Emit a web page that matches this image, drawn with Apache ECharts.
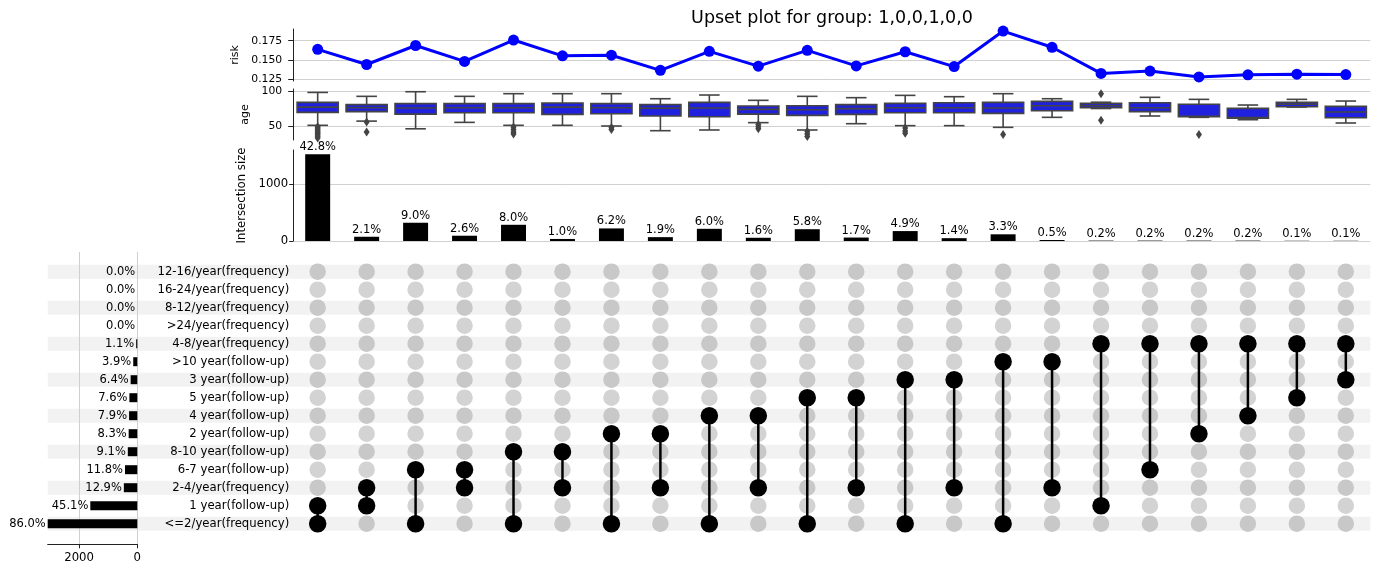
<!DOCTYPE html>
<html>
<head>
<meta charset="utf-8">
<title>Upset plot for group: 1,0,0,1,0,0</title>
<script src="https://cdn.jsdelivr.net/npm/echarts@6.0.0/dist/echarts.min.js"></script>
<style>
html, body { margin: 0; padding: 0; background: #fff; }
#chart { width: 1384px; height: 577px; }
</style>
</head>
<body>
<div id="chart"></div>
<script>
// sets, top to bottom in the matrix
const setNames = ['12-16/year(frequency)', '16-24/year(frequency)', '8-12/year(frequency)', '>24/year(frequency)',
  '4-8/year(frequency)', '>10 year(follow-up)', '3 year(follow-up)', '5 year(follow-up)', '4 year(follow-up)',
  '2 year(follow-up)', '8-10 year(follow-up)', '6-7 year(follow-up)', '2-4/year(frequency)', '1 year(follow-up)',
  '<=2/year(frequency)'];
const setSizes = [0, 0, 0, 0, 39, 140, 229, 272, 283, 297, 326, 422, 462, 1615, 3079];
const setPct = ['0.0%', '0.0%', '0.0%', '0.0%', '1.1%', '3.9%', '6.4%', '7.6%', '7.9%', '8.3%', '9.1%', '11.8%', '12.9%', '45.1%', '86.0%'];

// intersections, left to right (indices into setNames)
const members = [[13, 14], [12, 13], [11, 14], [11, 12], [10, 14], [10, 12], [9, 14], [9, 12], [8, 14], [8, 12],
  [7, 14], [7, 12], [6, 14], [6, 12], [5, 14], [5, 12], [4, 13], [4, 11], [4, 9], [4, 8], [4, 7], [4, 6]];
const interSizes = [1532, 75, 322, 93, 286, 36, 222, 68, 215, 57, 208, 61, 175, 50, 118, 18, 7, 7, 7, 7, 4, 4];
const interPct = ['42.8%', '2.1%', '9.0%', '2.6%', '8.0%', '1.0%', '6.2%', '1.9%', '6.0%', '1.6%', '5.8%', '1.7%',
  '4.9%', '1.4%', '3.3%', '0.5%', '0.2%', '0.2%', '0.2%', '0.2%', '0.1%', '0.1%'];

const risk = [0.1638, 0.1442, 0.1688, 0.1482, 0.1759, 0.1554, 0.1562, 0.1366, 0.1612, 0.1420, 0.1625,
  0.1424, 0.1607, 0.1415, 0.1875, 0.1665, 0.1326, 0.1357, 0.1281, 0.1308, 0.1317, 0.1312];

// age box stats: [low whisker, q1, median, q3, high whisker]
const ageBoxes = [
  [51, 69.5, 77, 83.8, 98], [57, 70.5, 76, 80.5, 92.4], [46, 67, 75.7, 82, 99], [55.2, 69, 76.2, 82, 92.4],
  [51, 69, 76.2, 82, 96.2], [51, 66.7, 77, 82.9, 96.2], [50, 67.6, 76.2, 82, 96.2], [43.3, 64.3, 75.5, 80.5, 89],
  [44.3, 63.3, 75.7, 83.8, 94.3], [54.8, 67, 73.8, 78.6, 86.7], [44.3, 65.2, 73.3, 79, 92.4], [53.3, 66.7, 74.8, 80.5, 90.5],
  [50.5, 69, 76.2, 82.4, 93.8], [50.5, 69, 76.2, 83.3, 91.9], [48.1, 68.1, 75.7, 83.8, 96.2], [62.4, 71.9, 79, 85.2, 89],
  [75, 76.2, 79, 82.4, 84], [64.3, 70.5, 76.2, 83.3, 91], [62.4, 63.3, 64, 81, 88.1], [59, 61, 62, 75.2, 80],
  [77.1, 77.6, 81, 83.8, 88.1], [54.3, 61.9, 70, 78.1, 85.7]
];
// outliers: [intersection index, age]
const ageOutliers = [
  [0, 49], [0, 47], [0, 45], [0, 43], [0, 41], [0, 39], [0, 37], [0, 35], [0, 33],
  [1, 55.7], [1, 41.4],
  [4, 48.6], [4, 45], [4, 41.5], [4, 38.5],
  [6, 48], [6, 45],
  [9, 52], [9, 49], [9, 46],
  [10, 42], [10, 38.5], [10, 35],
  [12, 47], [12, 43], [12, 39.5],
  [14, 38],
  [16, 96.2], [16, 58.1],
  [18, 38]
];

const riskTicks = [0.125, 0.15, 0.175];
const ageTicks = [50, 100];
const interTicks = [0, 1000];
const setTicks = [0, 2000];

const FONT = 'DejaVu Sans';
const cols = members.map((m, i) => 'I' + (i + 1));
const maxSet = Math.max(...setSizes);

// matrix dots and connectors
const inactive = [];
const active = [];
const links = [];
members.forEach((m, c) => {
  setNames.forEach((s, r) => {
    if (m.indexOf(r) >= 0) {
      active.push([c, r]);
    } else {
      inactive.push({ value: [c, r], itemStyle: { color: r % 2 === 0 ? '#c8c8c8' : '#d3d3d3', opacity: 1 } });
    }
  });
  links.push([c, Math.min(...m), Math.max(...m)]);
});
const shade = setNames.map((s, r) => (r % 2 === 0 ? 1 : 0));

const plotLeft = 293.2;
const plotRight = 13.7;

function valueAxis(grid, min, max, ticks, opts) {
  return Object.assign({
    type: 'value', gridIndex: grid, min: min, max: max,
    axisLine: { show: true, lineStyle: { color: '#222', width: 1 } },
    axisTick: { show: true, length: 5, customValues: ticks, lineStyle: { color: '#222' } },
    axisLabel: { customValues: ticks, color: '#000', fontFamily: FONT, fontSize: 11.7, margin: 10 },
    splitLine: { show: true, lineStyle: { color: '#d0d0d0', width: 1 } },
    nameLocation: 'middle',
    nameTextStyle: { color: '#000', fontFamily: FONT, fontSize: 11.7 }
  }, opts);
}

const chart = echarts.init(document.getElementById('chart'));
chart.setOption({
  animation: false,
  backgroundColor: '#fff',
  title: {
    text: 'Upset plot for group: 1,0,0,1,0,0',
    left: 832, top: 9, padding: 0, textAlign: 'center',
    textStyle: { fontFamily: FONT, fontSize: 17.5, fontWeight: 'normal', color: '#000' }
  },
  grid: [
    { left: plotLeft, right: plotRight, top: 29, height: 52 },        // risk
    { left: plotLeft, right: plotRight, top: 89, height: 51 },        // age
    { left: plotLeft, right: plotRight, top: 150, height: 91 },       // intersection size
    { left: plotLeft, right: plotRight, top: 262.7, height: 270 },    // matrix
    { left: 47.7, right: plotRight, top: 262.7, height: 270 },        // row shading
    { left: 47.7, width: 89.6, top: 262.7, height: 270 },             // set size bars
    { left: 47.7, width: 89.6, top: 252, height: 292.3 }              // set size axis
  ],
  xAxis: [
    { type: 'category', gridIndex: 0, data: cols, show: false },
    { type: 'category', gridIndex: 1, data: cols, show: false },
    { type: 'category', gridIndex: 2, data: cols, show: false },
    { type: 'category', gridIndex: 3, data: cols, show: false },
    { type: 'value', gridIndex: 4, min: 0, max: 1, show: false },
    { type: 'value', gridIndex: 5, min: 0, max: maxSet, inverse: true, show: false },
    {
      type: 'value', gridIndex: 6, min: 0, max: maxSet, inverse: true, position: 'bottom', z: 1,
      axisLine: { show: true, lineStyle: { color: '#222', width: 1 } },
      axisTick: { show: true, length: 4, customValues: setTicks, lineStyle: { color: '#222' } },
      axisLabel: { customValues: setTicks, formatter: v => String(v), color: '#000', fontFamily: FONT, fontSize: 11.7, margin: 8 },
      splitLine: { show: true, lineStyle: { color: '#cfcfcf', width: 1 } }
    }
  ],
  yAxis: [
    valueAxis(0, 0.1228, 0.1902, riskTicks, {
      name: 'risk', nameGap: 32,
      nameTextStyle: { color: '#000', fontFamily: FONT, fontSize: 11 },
      axisLabel: { customValues: riskTicks, formatter: v => v.toFixed(3), color: '#000', fontFamily: FONT, fontSize: 10.8, margin: 11 }
    }),
    valueAxis(1, 30, 102.9, ageTicks, {
      name: 'age', nameGap: 24,
      nameTextStyle: { color: '#000', fontFamily: FONT, fontSize: 11 },
      axisLabel: { customValues: ageTicks, formatter: v => String(v), color: '#000', fontFamily: FONT, fontSize: 10.8, margin: 11 }
    }),
    valueAxis(2, 0, 1605, interTicks, {
      name: 'Intersection size', nameGap: 30,
      axisTick: { show: true, length: 4, customValues: interTicks, lineStyle: { color: '#222' } },
      axisLabel: { customValues: interTicks, formatter: v => String(v), color: '#000', fontFamily: FONT, fontSize: 11.7, margin: 5 }
    }),
    {
      type: 'category', gridIndex: 3, data: setNames, inverse: true,
      axisLine: { show: false }, axisTick: { show: false }, splitLine: { show: false },
      axisLabel: { color: '#000', fontFamily: FONT, fontSize: 11.7, margin: 4 }
    },
    { type: 'category', gridIndex: 4, data: setNames, inverse: true, show: false },
    { type: 'category', gridIndex: 5, data: setNames, inverse: true, show: false },
    { type: 'value', gridIndex: 6, min: 0, max: 1, show: false }
  ],
  series: [
    {
      type: 'line', xAxisIndex: 0, yAxisIndex: 0, data: risk,
      symbol: 'circle', symbolSize: 11,
      lineStyle: { color: '#0000ff', width: 3 }, itemStyle: { color: '#0000ff' }
    },
    {
      type: 'custom', xAxisIndex: 1, yAxisIndex: 1,
      data: ageBoxes.map((b, i) => [i].concat(b)),
      encode: { x: 0, y: [1, 2, 3, 4, 5] },
      renderItem: function (params, api) {
        const x = api.value(0);
        const p = [1, 2, 3, 4, 5].map(d => api.coord([x, api.value(d)]));
        const cx = p[0][0];
        const bw = api.size([1, 0])[0] * 0.84;
        const cw = bw / 2;
        const st = { stroke: '#444', lineWidth: 1.6 };
        return {
          type: 'group',
          children: [
            { type: 'line', shape: { x1: cx, y1: p[0][1], x2: cx, y2: p[1][1] }, style: st },
            { type: 'line', shape: { x1: cx, y1: p[3][1], x2: cx, y2: p[4][1] }, style: st },
            { type: 'line', shape: { x1: cx - cw / 2, y1: p[0][1], x2: cx + cw / 2, y2: p[0][1] }, style: st },
            { type: 'line', shape: { x1: cx - cw / 2, y1: p[4][1], x2: cx + cw / 2, y2: p[4][1] }, style: st },
            { type: 'rect', shape: { x: cx - bw / 2, y: p[3][1], width: bw, height: p[1][1] - p[3][1] },
              style: { fill: '#2020df', stroke: '#444', lineWidth: 1.6 } },
            { type: 'line', shape: { x1: cx - bw / 2, y1: p[2][1], x2: cx + bw / 2, y2: p[2][1] }, style: st }
          ]
        };
      }
    },
    {
      type: 'scatter', xAxisIndex: 1, yAxisIndex: 1, data: ageOutliers,
      symbol: 'diamond', symbolSize: [6, 9], itemStyle: { color: '#444', opacity: 1 }
    },
    {
      type: 'bar', xAxisIndex: 2, yAxisIndex: 2, data: interSizes, barWidth: '51%',
      itemStyle: { color: '#000' },
      label: {
        show: true, position: 'top', distance: 1, color: '#000', fontFamily: FONT, fontSize: 11.5,
        formatter: p => interPct[p.dataIndex]
      }
    },
    {
      type: 'bar', xAxisIndex: 4, yAxisIndex: 4, data: shade, barWidth: 14, z: 0, silent: true,
      itemStyle: { color: '#f2f2f2' }
    },
    {
      type: 'scatter', xAxisIndex: 3, yAxisIndex: 3, data: inactive, symbolSize: 16.5, z: 2
    },
    {
      type: 'custom', xAxisIndex: 3, yAxisIndex: 3, data: links, z: 3,
      encode: { x: 0, y: [1, 2] },
      renderItem: function (params, api) {
        const a = api.coord([api.value(0), api.value(1)]);
        const b = api.coord([api.value(0), api.value(2)]);
        return { type: 'line', shape: { x1: a[0], y1: a[1], x2: b[0], y2: b[1] }, style: { stroke: '#000', lineWidth: 2.5 } };
      }
    },
    {
      type: 'scatter', xAxisIndex: 3, yAxisIndex: 3, data: active, symbolSize: 17.5, z: 4,
      itemStyle: { color: '#000', opacity: 1 }
    },
    {
      type: 'bar', xAxisIndex: 5, yAxisIndex: 5, data: setSizes, barWidth: 9,
      itemStyle: { color: '#000' },
      label: {
        show: true, position: 'left', distance: 2, color: '#000', fontFamily: FONT, fontSize: 11.5,
        formatter: p => setPct[p.dataIndex]
      }
    }
  ]
});
</script>
</body>
</html>
